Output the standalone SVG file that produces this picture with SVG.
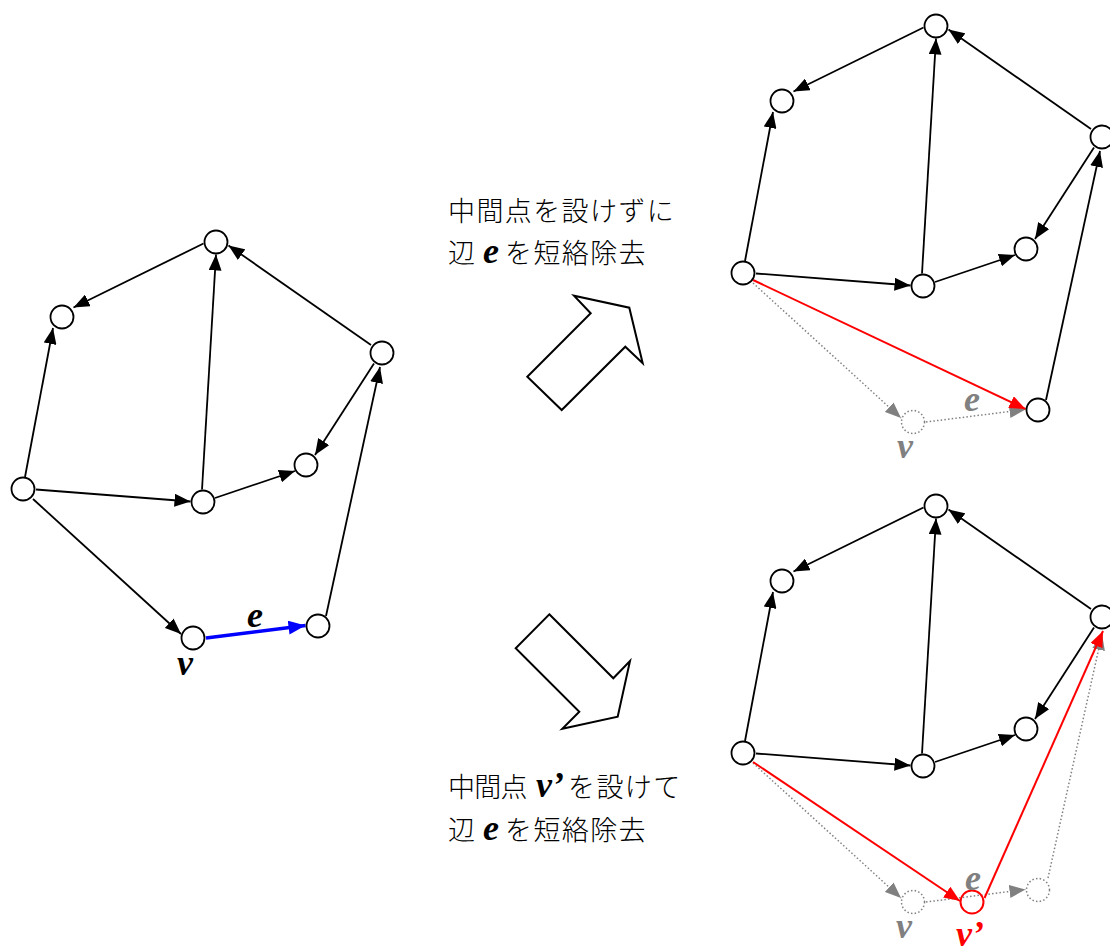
<svg xmlns="http://www.w3.org/2000/svg" width="1110" height="952" viewBox="0 0 1110 952">
<defs>
<style>
.node{fill:#fff;stroke:#000;stroke-width:1.8}
.dnode{fill:#fff;stroke:#808080;stroke-width:1.5;stroke-dasharray:1.5 2.2}
.rnode{fill:none;stroke:#ff0000;stroke-width:2}
.edge{fill:none;stroke:#000;stroke-width:1.8;marker-end:url(#ah)}
.blue{fill:none;stroke:#0000ff;stroke-width:3.5;marker-end:url(#ahb)}
.red{fill:none;stroke:#ff0000;stroke-width:2;marker-end:url(#ahr)}
.dot{fill:none;stroke:#808080;stroke-width:1.5;stroke-dasharray:1.5 2.2;marker-end:url(#ahg)}
.jp{font-family:"Noto Sans CJK JP","Noto Sans CJK SC",sans-serif;font-size:27px;font-weight:300;fill:#000;letter-spacing:1.4px}
.m{font-family:"Liberation Serif","DejaVu Serif",serif;font-style:italic;font-weight:bold;font-size:36px;letter-spacing:0}
.g{fill:#808080}
.block{fill:#fff;stroke:#000;stroke-width:2;stroke-linejoin:miter}
</style>
<marker id="ah" markerUnits="userSpaceOnUse" markerWidth="16" markerHeight="13" viewBox="0 0 16 13" refX="16" refY="6.5" orient="auto"><path d="M0,0 L16,6.5 L0,13 z" fill="#000"/></marker>
<marker id="ahb" markerUnits="userSpaceOnUse" markerWidth="17" markerHeight="14" viewBox="0 0 17 14" refX="17" refY="7" orient="auto"><path d="M0,0 L17,7 L0,14 z" fill="#0000ff"/></marker>
<marker id="ahr" markerUnits="userSpaceOnUse" markerWidth="16" markerHeight="13" viewBox="0 0 16 13" refX="16" refY="6.5" orient="auto"><path d="M0,0 L16,6.5 L0,13 z" fill="#ff0000"/></marker>
<marker id="ahg" markerUnits="userSpaceOnUse" markerWidth="16" markerHeight="13" viewBox="0 0 16 13" refX="16" refY="6.5" orient="auto"><path d="M0,0 L16,6.5 L0,13 z" fill="#808080"/></marker>
</defs>
<rect width="1110" height="952" fill="#fff"/>

<!-- Left graph -->
<g id="graph-left">
<g id="connectors-left">
<path class="edge" d="M203.5,243.5 L73.5,307.5"/>
<path class="edge" d="M25,477 L53,328"/>
<path class="edge" d="M202,489.5 L216,254.5"/>
<path class="edge" d="M371,345 L228.5,245.5"/>
<path class="edge" d="M374,363.5 L315,455"/>
<path class="edge" d="M215,498 L295,471"/>
<path class="edge" d="M36,489.5 L190.5,501.5"/>
<path class="edge" d="M33,499 L181,634"/>
<path class="blue" d="M206,638 L305.5,625.5"/>
<path class="edge" d="M326,616 L380,367"/>
</g>
<g id="L-T"><circle class="node" cx="216" cy="242" r="11.5"/></g>
<g id="L-UL"><circle class="node" cx="62" cy="317" r="11.5"/></g>
<g id="L-R"><circle class="node" cx="382" cy="353" r="11.5"/></g>
<g id="L-S"><circle class="node" cx="306" cy="465" r="11.5"/></g>
<g id="L-Lf"><circle class="node" cx="23" cy="489" r="11.5"/></g>
<g id="L-C"><circle class="node" cx="203" cy="502" r="11.5"/></g>
<g id="L-V"><circle class="node" cx="193" cy="638" r="11.5"/></g>
<g id="L-BR"><circle class="node" cx="318" cy="626" r="11.5"/></g>
<text class="m" x="255" y="627" text-anchor="middle">e</text>
<text class="m" x="185" y="675" text-anchor="middle">v</text>
</g>

<!-- Top-right graph -->
<g id="graph-top" transform="translate(720,-216)">
<g id="connectors-top">
<path class="edge" d="M203.5,243.5 L73.5,307.5"/>
<path class="edge" d="M25,477 L53,328"/>
<path class="edge" d="M202,489.5 L216,254.5"/>
<path class="edge" d="M371,345 L228.5,245.5"/>
<path class="edge" d="M374,363.5 L315,455"/>
<path class="edge" d="M215,498 L295,471"/>
<path class="edge" d="M36,489.5 L190.5,501.5"/>
<path class="dot" d="M33,499 L181,634"/>
<path class="dot" d="M206,638 L305.5,625.5"/>
<path class="red" d="M33,496 L305.5,625"/>
<path class="edge" d="M326,616 L380,367"/>
</g>
<g id="A-T"><circle class="node" cx="216" cy="242" r="11.5"/></g>
<g id="A-UL"><circle class="node" cx="62" cy="317" r="11.5"/></g>
<g id="A-R"><circle class="node" cx="382" cy="353" r="11.5"/></g>
<g id="A-S"><circle class="node" cx="306" cy="465" r="11.5"/></g>
<g id="A-Lf"><circle class="node" cx="23" cy="489" r="11.5"/></g>
<g id="A-C"><circle class="node" cx="203" cy="502" r="11.5"/></g>
<g id="A-V"><circle class="dnode" cx="193" cy="638" r="11.5"/></g>
<g id="A-BR"><circle class="node" cx="318" cy="626" r="11.5"/></g>
<text class="m g" x="252" y="627" text-anchor="middle">e</text>
<text class="m g" x="185" y="674" text-anchor="middle" font-weight="normal">v</text>
</g>

<!-- Bottom-right graph -->
<g id="graph-bottom" transform="translate(720,264)">
<g id="connectors-bottom">
<path class="edge" d="M203.5,243.5 L73.5,307.5"/>
<path class="edge" d="M25,477 L53,328"/>
<path class="edge" d="M202,489.5 L216,254.5"/>
<path class="edge" d="M371,345 L228.5,245.5"/>
<path class="edge" d="M374,363.5 L315,455"/>
<path class="edge" d="M215,498 L295,471"/>
<path class="edge" d="M36,489.5 L190.5,501.5"/>
<path class="dot" d="M33,499 L181,634"/>
<path class="dot" d="M206,638 L305.5,625.5"/>
<path class="dot" d="M328,614 L382,370"/>
<path class="red" d="M33,498 L240,637"/>
<path class="red" d="M264.5,634 L383,367"/>
</g>
<g id="B-T"><circle class="node" cx="216" cy="242" r="11.5"/></g>
<g id="B-UL"><circle class="node" cx="62" cy="317" r="11.5"/></g>
<g id="B-R"><circle class="node" cx="382" cy="353" r="11.5"/></g>
<g id="B-S"><circle class="node" cx="306" cy="465" r="11.5"/></g>
<g id="B-Lf"><circle class="node" cx="23" cy="489" r="11.5"/></g>
<g id="B-C"><circle class="node" cx="203" cy="502" r="11.5"/></g>
<g id="B-V"><circle class="dnode" cx="193" cy="638" r="11.5"/></g>
<g id="B-Vp"><circle class="rnode" cx="252" cy="638" r="11.5"/></g>
<g id="B-BR"><circle class="dnode" cx="318" cy="626" r="11.5"/></g>
<text class="m g" x="253" y="626" text-anchor="middle">e</text>
<text class="m g" x="184" y="674" text-anchor="middle" font-weight="normal">v</text>
<text class="m" x="250" y="682" text-anchor="middle" font-weight="normal" font-size="34" fill="#ff0000">v’</text>
</g>

<!-- Block arrows -->
<g id="arrow-up"><polygon class="block" points="527.3,376.7 590.7,313.3 574,295.7 629.3,307.7 642.7,363.3 625.3,346.7 561.7,410"/></g>
<g id="arrow-down"><polygon class="block" points="549.3,614.3 613.3,678.3 630,661 617.7,716.7 562.3,728.7 579.3,711.7 515.7,648.3"/></g>

<!-- Texts -->
<g id="text-top">
<text class="jp" x="448" y="221">中間点を設けずに</text>
<text class="jp" y="263"><tspan x="448">辺</tspan><tspan class="m" x="483">e</tspan><tspan x="505">を短絡除去</tspan></text>
</g>
<g id="text-bottom">
<text class="jp" y="797"><tspan x="448" letter-spacing="-0.8">中間点</tspan><tspan class="m" x="536">v’</tspan><tspan x="568">を設けて</tspan></text>
<text class="jp" y="840"><tspan x="448">辺</tspan><tspan class="m" x="483">e</tspan><tspan x="505">を短絡除去</tspan></text>
</g>
</svg>
